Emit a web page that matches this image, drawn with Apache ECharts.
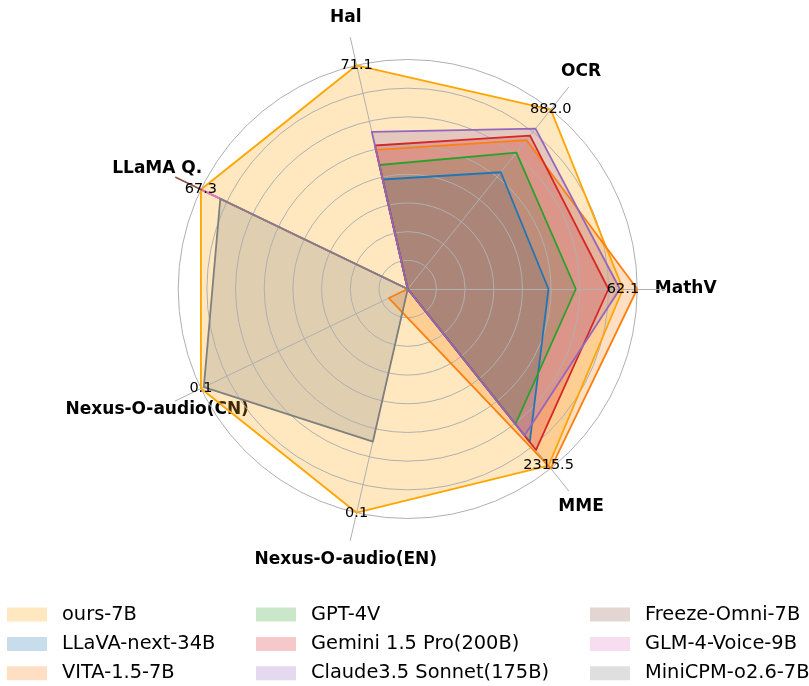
<!DOCTYPE html>
<html lang="en">
<head>
<meta charset="utf-8">
<script src="https://cdn.jsdelivr.net/npm/echarts@6/dist/echarts.min.js"></script>
<title></title>
</head>
<body style="margin:0">
<div id="main" style="width: 809px;height:686px;"></div>
<script type="text/javascript">
// axes, counter-clockwise from the right
var axisNames = ['MathV', 'OCR', 'Hal', 'LLaMA Q.', 'Nexus-O-audio(CN)', 'Nexus-O-audio(EN)', 'MME'];
var axisMax = [66.2, 882.0, 71.1, 67.3, 0.1, 0.1, 2352.0];

var models = ['ours-7B', 'LLaVA-next-34B', 'VITA-1.5-7B', 'GPT-4V', 'Gemini 1.5 Pro(200B)',
    'Claude3.5 Sonnet(175B)', 'Freeze-Omni-7B', 'GLM-4-Voice-9B', 'MiniCPM-o2.6-7B'];

var ours    = [62.1, 882.0, 71.1, 67.3, 0.1,    0.1,    2315.5];
var llava   = [40.6, 574,   34.8, 0,    0,      0,      2006];
var vita    = [66.2, 732,   44.2, 0,    0.0091, 0.0104, 2352];
var gpt4v   = [48.5, 670,   39.4, 0,    0,      0,      1771];
var gemini  = [57.9, 754,   45.6, 0,    0,      0,      2110];
var claude  = [61.2, 788,   49.9, 0,    0,      0,      1920];
var freeze  = [0,    0,     0,    75.4, 0,      0,      0];
var glm     = [0,    0,     0,    66.8, 0,      0,      0];
var minicpm = [0,    0,     0,    61.0, 0.0986, 0.0682, 0];

var values = [ours, llava, vita, gpt4v, gemini, claude, freeze, glm, minicpm];
var colors = ['#ffa500', '#1f77b4', '#ff7f0e', '#2ca02c', '#d62728', '#9467bd', '#8c564b', '#e377c2', '#7f7f7f'];

var cx = 407.7, cy = 289, R = 229.5;
var font = '"DejaVu Sans", sans-serif';

function fade(hex, a) {
    var n = parseInt(hex.slice(1), 16);
    return 'rgba(' + (n >> 16) + ',' + ((n >> 8) & 255) + ',' + (n & 255) + ',' + a + ')';
}

var myChart = echarts.init(document.getElementById('main'));

// fills at the bottom, grid over them, outlines on top
var fills = models.map(function (name, i) {
    return {
        type: 'radar',
        radarIndex: 0,
        name: name,
        z: 2,
        symbol: 'none',
        lineStyle: {width: 0, opacity: 0},
        itemStyle: {color: colors[i]},
        areaStyle: {color: colors[i], opacity: 0.25},
        emphasis: {disabled: true},
        data: [{name: name, value: values[i]}]
    };
});
var outlines = models.map(function (name, i) {
    return {
        type: 'radar',
        radarIndex: 0,
        name: name + ' line',
        z: 3,
        symbol: 'none',
        lineStyle: {color: colors[i], width: 1.8},
        itemStyle: {color: colors[i]},
        emphasis: {disabled: true},
        data: [{value: values[i]}]
    };
});
// value labels of ours-7B, placed on its vertices
var valueLabels = {
    type: 'radar',
    radarIndex: 0,
    name: 'ours-7B labels',
    z: 5,
    silent: true,
    symbol: 'circle',
    symbolSize: 1,
    itemStyle: {color: 'rgba(0,0,0,0)'},
    lineStyle: {width: 0, opacity: 0},
    label: {
        show: true,
        position: 'inside',
        color: '#000',
        fontFamily: font,
        fontSize: 14.5,
        formatter: function (p) { return p.value.toFixed(1); }
    },
    data: [{value: ours}]
};

var legendLeft = [7, 256, 590];
var legends = legendLeft.map(function (left, c) {
    return {
        orient: 'vertical',
        left: left,
        top: 604.5,
        padding: 0,
        itemWidth: 40,
        itemHeight: 14,
        itemGap: 9.4,
        icon: 'rect',
        selectedMode: false,
        textStyle: {fontFamily: font, fontSize: 19.4, color: '#000', lineHeight: 20, padding: [0, 0, 0, 10]},
        data: models.slice(c * 3, c * 3 + 3).map(function (name) {
            var i = models.indexOf(name);
            return {name: name, itemStyle: {color: fade(colors[i], 0.25), borderWidth: 0}};
        })
    };
});

var nameTexts = axisNames.map(function (name, i) {
    var a = i * 2 * Math.PI / axisNames.length;
    return {
        type: 'text',
        x: cx + 278 * Math.cos(a),
        y: cy - 278 * Math.sin(a),
        style: {
            text: name,
            font: 'bold 17px ' + font,
            fill: '#000',
            align: 'center',
            verticalAlign: 'middle'
        }
    };
});

option = {
    animation: false,
    backgroundColor: '#fff',
    legend: legends,
    radar: [
        {
            z: 2.5,
            center: [cx, cy],
            radius: R,
            startAngle: 0,
            shape: 'circle',
            splitNumber: 8,
            indicator: axisNames.map(function (n, i) { return {name: n, min: 0, max: axisMax[i]}; }),
            axisName: {show: false},
            axisLine: {show: false},
            axisTick: {show: false},
            axisLabel: {show: false},
            splitArea: {show: false},
            splitLine: {lineStyle: {color: '#b0b0b0', width: 1}}
        },
        {
            z: 2.5,
            center: [cx, cy],
            radius: 258,
            startAngle: 0,
            shape: 'circle',
            indicator: axisNames.map(function (n) { return {name: n, min: 0, max: 1}; }),
            axisName: {show: false},
            axisLine: {lineStyle: {color: '#b0b0b0', width: 1}},
            axisTick: {show: false},
            axisLabel: {show: false},
            splitArea: {show: false},
            splitLine: {show: false}
        }
    ],
    graphic: nameTexts,
    series: fills.concat(outlines, [valueLabels])
};

myChart.setOption(option);
</script>
</body>
</html>
